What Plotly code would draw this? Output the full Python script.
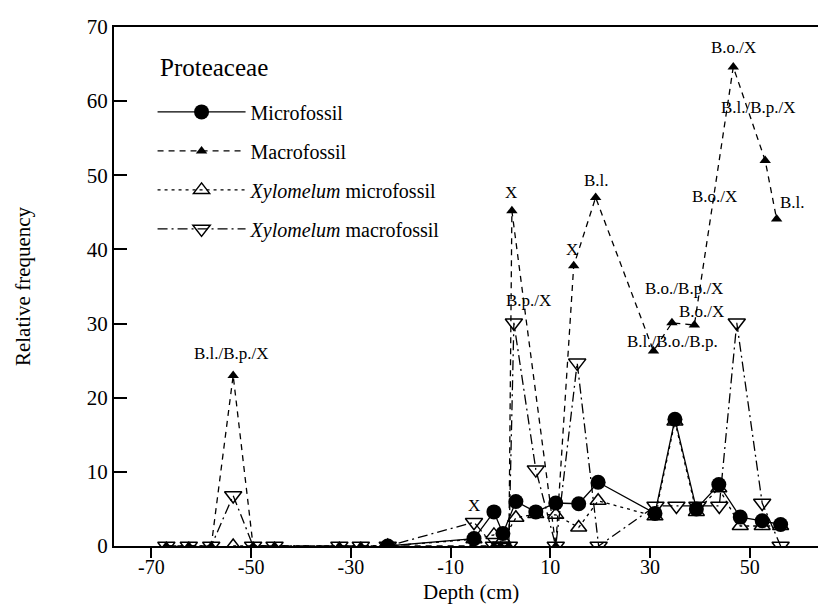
import plotly.graph_objects as go

# ---- data (depth in cm, relative frequency) ----
micro_depth = [-22.6, -5.3, -1.3, 0.5, 3.1, 7.1, 11.1, 15.7, 19.6, 31.0, 35.0, 39.3, 43.8, 48.1, 52.5, 56.2]
micro_val = [0, 1.0, 4.6, 1.7, 6.0, 4.6, 5.8, 5.7, 8.6, 4.4, 17.1, 5.0, 8.3, 3.9, 3.4, 2.9]

macro_depth = [-67, -62.5, -58, -53.6, -49.6, -45.3, -32.3, -28, -22.6, -5.5, -1.3, 0, 1.7, 2.3,
               11.1, 14.7, 19.1, 30.7, 34.4, 38.9, 46.7, 53.1, 55.4]
macro_val = [0, 0, 0, 23.0, 0, 0, 0, 0, 0, 0, 0, 0, 0, 45.2,
             0, 37.8, 47.0, 26.3, 30.1, 29.8, 64.6, 52.0, 44.1]

xmicro_depth = [-53.6, -22.6, -5.3, -1.3, 0.5, 3.1, 7.1, 11.1, 15.7, 19.6, 31.0, 35.0, 39.3, 43.8, 48.1, 52.5, 56.2]
xmicro_val = [0, 0, 0.9, 1.5, 0.8, 3.8, 4.3, 4.2, 2.5, 6.1, 4.0, 16.8, 4.6, 7.8, 2.7, 2.7, 2.7]

xmacro_depth = [-67, -62.5, -58, -53.6, -49.6, -45.3, -32.3, -28, -22.6, -5.3, -1.3, 0, 1.7, 2.7,
                7.1, 11.1, 15.4, 19.7, 31.1, 35.3, 39.5, 43.9, 47.4, 52.5, 56.2]
xmacro_val = [0, 0, 0, 6.8, 0, 0, 0, 0, 0, 3.2, 0, 0, 0, 30.1,
              10.3, 0, 24.7, 0, 5.4, 5.4, 5.4, 5.4, 30.1, 5.8, 0]

# taxon labels for macrofossil samples: (text, depth, value)
label_text = ["B.l./B.p./X", "X", "X", "B.p./X", "X", "B.l.", "B.l./B.o./B.p.",
              "B.o./B.p./X", "B.o./X", "B.o./X", "B.o./X", "B.l./B.p./X", "B.l."]
label_depth = [-54.0, -5.3, 2.2, 5.6, 14.3, 19.3, 34.5, 36.9, 40.3, 42.9, 46.8, 51.8, 58.5]
label_value = [25.9, 5.5, 47.7, 33.1, 40.0, 49.3, 27.6, 34.7, 31.6, 47.1, 67.2, 59.2, 46.3]

x_ticks = [-70, -50, -30, -10, 10, 30, 50]
y_ticks = [0, 10, 20, 30, 40, 50, 60, 70]

FONT = "Liberation Serif"
fig = go.Figure()

fig.add_trace(go.Scatter(
    x=micro_depth, y=micro_val, mode="lines+markers", name="Microfossil",
    legendgroup="a",
    line=dict(color="black", width=1.3, dash="solid"),
    marker=dict(symbol="circle", size=15, color="black")))
fig.add_trace(go.Scatter(
    x=macro_depth, y=macro_val, mode="lines+markers", name="Macrofossil",
    legendgroup="b",
    line=dict(color="black", width=1.3, dash="6px,5px"),
    marker=dict(symbol="triangle-up", size=10, color="black")))
fig.add_trace(go.Scatter(
    x=xmicro_depth, y=xmicro_val, mode="lines+markers", name="<i>Xylomelum</i> microfossil",
    legendgroup="c",
    line=dict(color="black", width=1.3, dash="3px,4px"),
    marker=dict(symbol="triangle-up-open", size=14, color="black", line=dict(width=1.5))))
fig.add_trace(go.Scatter(
    x=xmacro_depth, y=xmacro_val, mode="lines+markers", name="<i>Xylomelum</i> macrofossil",
    legendgroup="d",
    line=dict(color="black", width=1.3, dash="10px,4px,2px,4px"),
    marker=dict(symbol="triangle-down-open", size=15, color="black", line=dict(width=1.5))))

for t, xd, yv in zip(label_text, label_depth, label_value):
    fig.add_annotation(x=xd, y=yv, text=t, showarrow=False,
                       font=dict(family=FONT, size=17, color="black"),
                       xanchor="center", yanchor="middle")

# legend heading
fig.add_annotation(xref="paper", yref="paper", x=0.061, y=0.922, text="Proteaceae",
                   showarrow=False, xanchor="left", yanchor="middle",
                   font=dict(family=FONT, size=25, color="black"))

# x-axis title
fig.add_annotation(xref="paper", yref="paper", x=0.5, y=-0.088, text="Depth (cm)",
                   showarrow=False, xanchor="center", yanchor="middle",
                   font=dict(family=FONT, size=21, color="black"))

fig.update_layout(
    width=826, height=606,
    margin=dict(l=106, r=6, t=19, b=68),
    paper_bgcolor="white", plot_bgcolor="white",
    font=dict(family=FONT, size=20, color="black"),
    showlegend=True,
    legend=dict(
        x=0.054, y=0.874, xanchor="left", yanchor="top",
        bgcolor="rgba(0,0,0,0)",
        font=dict(family=FONT, size=20),
        tracegroupgap=10, itemwidth=88, traceorder="grouped"),
    xaxis=dict(
        range=[-77.5, 65.7], tickmode="array", tickvals=x_ticks,
        ticktext=[str(v) for v in x_ticks],
        showline=True, linecolor="black", linewidth=2, mirror=True,
        ticks="outside", ticklen=10, tickwidth=1.5, tickcolor="black",
        ticklabelstandoff=-8,
        showgrid=False, zeroline=False,
        tickfont=dict(family=FONT, size=20)),
    yaxis=dict(
        range=[0, 70], tickmode="array", tickvals=y_ticks,
        showline=True, linecolor="black", linewidth=2,
        ticks="inside", ticklen=13, tickwidth=1.5, tickcolor="black",
        showgrid=False, zeroline=False,
        title=dict(text="Relative frequency", font=dict(family=FONT, size=21), standoff=50),
        tickfont=dict(family=FONT, size=21)),
)

fig.write_html("out.html")
